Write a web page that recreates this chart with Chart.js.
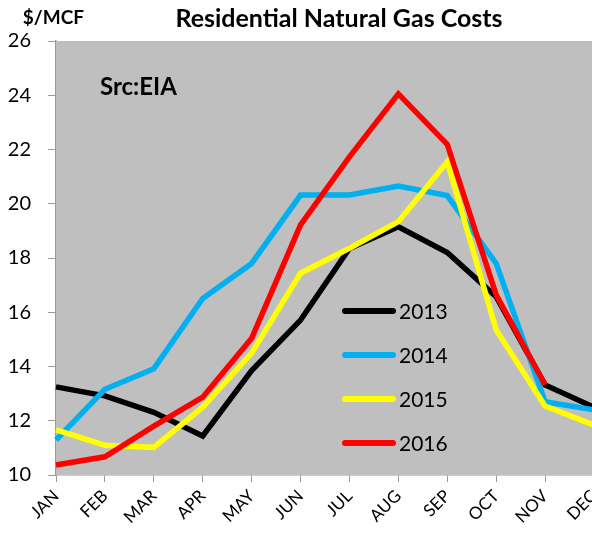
<!DOCTYPE html>
<html>
<head>
<meta charset="utf-8">
<script src="https://cdn.jsdelivr.net/npm/chart.js@4"></script>
<style>
  html, body { margin: 0; padding: 0; background: #fff; overflow: hidden; width: 592px; height: 537px; }
  #wrap { width: 620px; height: 537px; }
</style>
</head>
<body>
<div id="wrap"><canvas id="chart" width="620" height="537"></canvas></div>
<script>
const months = ["JAN", "FEB", "MAR", "APR", "MAY", "JUN", "JUL", "AUG", "SEP", "OCT", "NOV", "DEC"];
const years = ["2013", "2014", "2015", "2016"];
const colors = ["#000000", "#00B0F0", "#FFFF00", "#FF0000"];

const y2013 = [13.25, 12.92, 12.31, 11.44, 13.85, 15.71, 18.35, 19.15, 18.2, 16.57, 13.32, 12.5];
const y2014 = [11.29, 13.16, 13.92, 16.51, 17.8, 20.32, 20.32, 20.65, 20.3, 17.8, 12.7, 12.4];
const y2015 = [11.66, 11.1, 11.02, 12.5, 14.49, 17.44, 18.36, 19.34, 21.55, 15.35, 12.54, 11.84];
const y2016 = [10.37, 10.67, 11.8, 12.87, 15.04, 19.22, 21.73, 24.05, 22.19, 16.64, 13.32, null];

const series = [y2013, y2014, y2015, y2016];

// gray plot background + texts + legend inside the plot
const decor = {
    id: "decor",
    beforeDatasetsDraw(chart) {
        let a = chart.chartArea;
        let ctx = chart.ctx;
        ctx.save();
        ctx.fillStyle = "#BFBFBF";
        ctx.fillRect(a.left, a.top, a.right - a.left, a.bottom - a.top);
        ctx.restore();
    },
    afterDraw(chart) {
        let ctx = chart.ctx;
        ctx.save();
        ctx.fillStyle = "#000";
        ctx.textBaseline = "middle";

        ctx.textAlign = "center";
        ctx.font = "bold 25px Lato";
        ctx.fillText("Residential Natural Gas Costs", 339, 19);

        ctx.textAlign = "right";
        ctx.font = "bold 19px Lato";
        ctx.fillText("$/MCF", 84, 18);

        ctx.textAlign = "left";
        ctx.font = "bold 24px Lato";
        ctx.fillText("Src:EIA", 100, 87);

        // legend
        let ly = [311, 355, 399, 443];
        ctx.font = "21px Lato";
        chart.data.datasets.forEach((ds, i) => {
            ctx.strokeStyle = ds.borderColor;
            ctx.lineWidth = 6;
            ctx.lineCap = "round";
            ctx.beginPath();
            ctx.moveTo(345, ly[i]);
            ctx.lineTo(393, ly[i]);
            ctx.stroke();
            ctx.fillText(ds.label, 399, ly[i] + 1);
        });
        ctx.restore();
    }
};

new Chart(document.getElementById("chart"), {
    type: "line",
    data: {
        labels: months,
        datasets: series.map((s, i) => ({
            label: years[i],
            data: s,
            borderColor: colors[i],
            backgroundColor: colors[i],
            borderWidth: 5.5,
            pointRadius: 0,
            tension: 0,
            fill: false,
            order: 4 - i
        }))
    },
    options: {
        responsive: false,
        animation: false,
        devicePixelRatio: 1,
        layout: { padding: { top: 41, right: 26, left: 0, bottom: 0 } },
        plugins: {
            legend: { display: false },
            title: { display: false },
            tooltip: { enabled: false }
        },
        scales: {
            x: {
                offset: false,
                afterFit(scale) { scale.height = 62; },
                grid: { drawOnChartArea: false, drawTicks: true, tickLength: 7, color: "#9a9a9a" },
                border: { color: "#9a9a9a", width: 1.5 },
                ticks: {
                    color: "#000",
                    font: { family: "Lato", size: 17 },
                    minRotation: 45,
                    maxRotation: 45,
                    autoSkip: false,
                    padding: 4
                }
            },
            y: {
                min: 10,
                max: 26,
                afterFit(scale) { scale.width = 56; },
                grid: { drawOnChartArea: false, drawTicks: true, tickLength: 8, color: "#9a9a9a" },
                border: { color: "#9a9a9a", width: 1.5 },
                ticks: {
                    stepSize: 2,
                    color: "#000",
                    font: { family: "Lato", size: 20 },
                    padding: 17
                }
            }
        }
    },
    plugins: [decor]
});
</script>
</body>
</html>
